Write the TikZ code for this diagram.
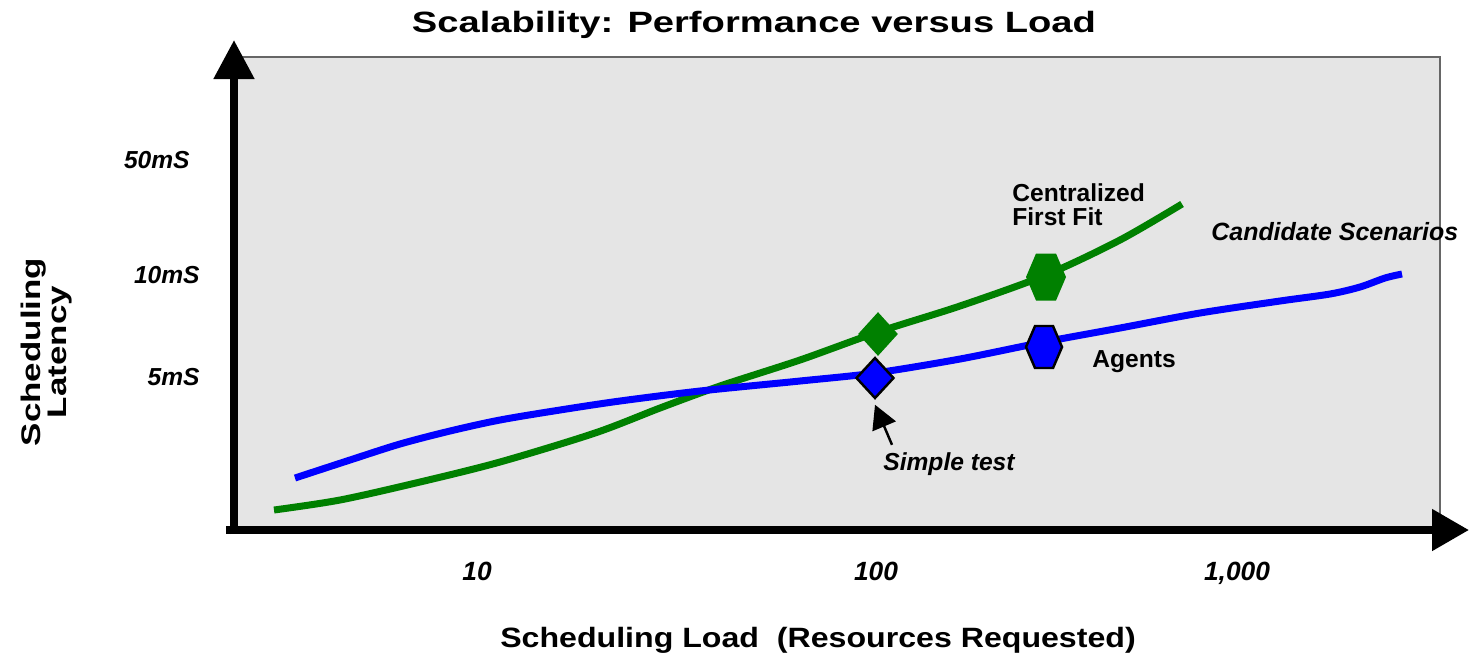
\documentclass[tikz,border=0pt]{standalone}
\usepackage{fontspec}
\setmainfont{Liberation Sans}
\newfontfamily\widefont[FakeStretch=1.3]{Liberation Sans}
\newfontfamily\axisfont[FakeStretch=1.15]{Liberation Sans}
\usetikzlibrary{arrows.meta,shapes.geometric}
\definecolor{plotgray}{RGB}{229,229,229}
\definecolor{fitgreen}{RGB}{0,128,0}
\tikzset{
	axisline/.style={line width=0.16cm},
	bluecurve/.style={line width=0.14cm,blue},
	greencurve/.style={line width=0.14cm,fitgreen},
	txt/.style={inner sep=0pt,font=\bfseries\fontsize{14}{13.6}\selectfont},
	ticktxt/.style={inner sep=0pt,font=\bfseries\itshape\fontsize{14}{14}\selectfont},
	widetxt/.style={inner sep=0pt,font=\axisfont\bfseries\fontsize{15.9}{13}\selectfont},
}
\begin{document}
\begin{tikzpicture}[x=0.02cm,y=-0.02cm]
	\useasboundingbox (0,0) rectangle (1469,654);
	% plot area
	\filldraw [fill=plotgray,draw=black!60,line width=0.6pt] (234,57) rectangle (1440,530);
	% axes
	\coordinate (origin) at (234,534);
	\coordinate (ytop) at (234,40);
	\coordinate (xleft) at (226,530);
	\coordinate (xend) at (1469,530);
	\draw [axisline,-{Triangle[length=0.78cm,width=0.78cm]}] (origin) -- (ytop);
	\draw [axisline,-{Triangle[length=0.74cm,width=0.8cm]}] (xleft) -- (xend);
	% curves
	\draw [greencurve] plot[smooth] coordinates {(274,510) (340,500) (420,482) (500,462) (595,433) (660,408) (720,386) (800,360) (878,332) (960,306) (1046,275) (1120,240) (1182,204)};
	\draw [bluecurve] plot[smooth] coordinates {(295,478) (350,460) (400,444) (450,431) (500,420) (560,410) (620,401) (700,391) (800,381) (875,373) (960,359) (1044,342) (1120,328) (1200,313) (1280,301) (1330,294) (1360,287) (1385,278) (1402,274)};
	% markers
	\node [diamond,fill=fitgreen,minimum width=0.8cm,minimum height=0.88cm,inner sep=0pt] (gdia) at (878,334) {};
	\fill [fitgreen,shift={(1046,277)}] (-20,0) -- (-10,-23.5) -- (10,-23.5) -- (20,0) -- (10,23.5) -- (-10,23.5) -- cycle;
	\node [diamond,fill=blue,draw=black,line width=1.4pt,minimum width=0.76cm,minimum height=0.82cm,inner sep=0pt] (bdia) at (875,378) {};
	\filldraw [fill=blue,draw=black,line width=1.4pt,shift={(1044,347)}] (-18,0) -- (-9,-21) -- (9,-21) -- (18,0) -- (9,21) -- (-9,21) -- cycle;
	% texts
	\node [widetxt,font=\widefont\bfseries\fontsize{16.7}{18}\selectfont,anchor=base] (title) at (754,32) {Scalability: Performance versus Load};
	\node [widetxt,anchor=base] (xlabel) at (818,647) {Scheduling Load~~(Resources Requested)};
	\node [widetxt,font=\widefont\bfseries\fontsize{15.3}{13.5}\selectfont,rotate=90,align=center] (ylabel) at (47,352) {Scheduling\\Latency};
	\node [ticktxt,anchor=base east] (t50) at (190,168) {50mS};
	\node [ticktxt,anchor=base east] (t10) at (200,283) {10mS};
	\node [ticktxt,anchor=base east] (t5) at (200,385) {5mS};
	\node [ticktxt,font=\bfseries\itshape\fontsize{15}{15}\selectfont,anchor=base] (x10) at (477,580) {10};
	\node [ticktxt,font=\bfseries\itshape\fontsize{15}{15}\selectfont,anchor=base] (x100) at (876,580) {100};
	\node [ticktxt,font=\bfseries\itshape\fontsize{15}{15}\selectfont,anchor=base] (x1000) at (1237,580) {1,000};
	\node [txt,anchor=north west,align=left] (central) at (1012,183) {Centralized\\First Fit};
	\node [ticktxt,font=\bfseries\itshape\fontsize{14.2}{15}\selectfont,anchor=base west] (cand) at (1211,240) {Candidate Scenarios};
	\node [txt,anchor=base west] (agents) at (1092,367) {Agents};
	\node [ticktxt,anchor=base west] (simple) at (883,470) {Simple test};
	\draw [line width=1.4pt,-{Triangle[length=0.47cm,width=0.5cm]}] ([xshift=0.18cm,yshift=0.14cm]simple.north west) -- ([yshift=-0.1cm]bdia.south);
\end{tikzpicture}
\end{document}
